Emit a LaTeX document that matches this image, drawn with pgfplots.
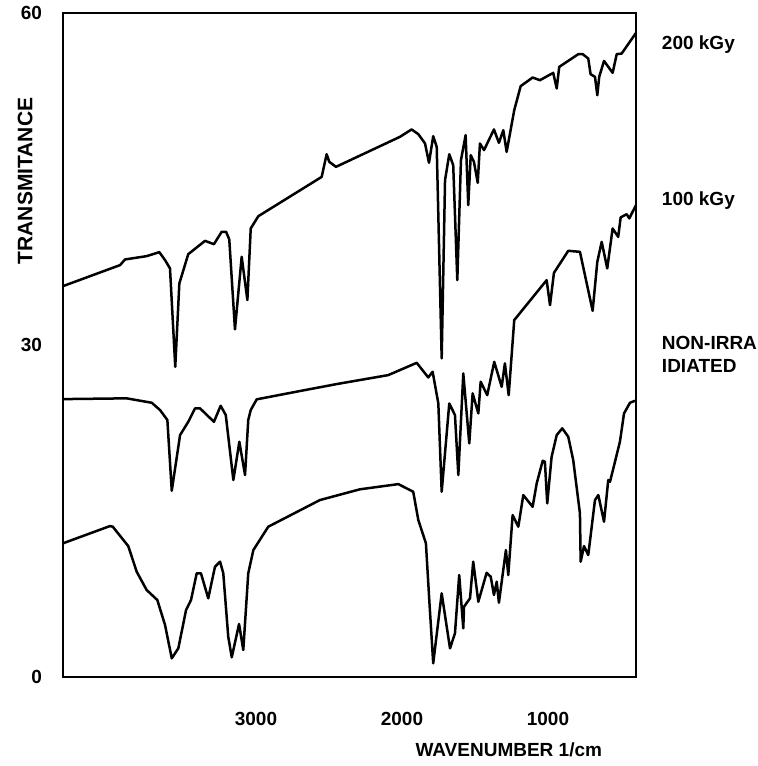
\documentclass[border=0pt]{standalone}
\usepackage{pgfplots}
\pgfplotsset{compat=1.18}
\usepackage{fontspec}
\setmainfont{Liberation Sans}

\begin{document}
\begin{tikzpicture}
\path[use as bounding box] (-31.5pt,-44.5pt) rectangle (347.5pt,338.5pt);
\begin{axis}[
  scale only axis,
  width=286.5pt, height=332pt,
  at={(0,0)}, anchor=south west,
  x dir=reverse,
  xmin=397, xmax=4322,
  ymin=0, ymax=60,
  axis line style={line width=1pt},
  major tick length=0pt,
  xtick={3000,2000,1000},
  xticklabels={3000,2000,1000},
  ytick={0,30,60},
  yticklabels={0,30,60},
  /pgf/number format/assume math mode=true,
  ticklabel style={font=\fontsize{9.5}{11}\selectfont\bfseries},
  xticklabel style={yshift=-14pt},
  yticklabel style={xshift=-7pt},
  xlabel={WAVENUMBER 1/cm},
  xlabel style={at={(axis description cs:0.778,-0.11)}, anchor=center,
    font=\fontsize{9.5}{11}\selectfont\bfseries},
  ylabel={TRANSMITANCE},
  ylabel style={at={(axis description cs:-0.066,0.747)}, anchor=center,
    font=\fontsize{10.5}{12}\selectfont\bfseries},
  clip=false,
]
% 200 kGy
\addplot[black, line width=1.25pt, line join=round, mark=none] coordinates {
(4322,35.32) (3931,37.22) (3897,37.73) (3749,38.03) (3662,38.39) (3623,37.67)
(3589,36.92) (3553,28.03) (3525,35.56) (3464,38.21) (3349,39.41) (3288,39.11)
(3235,40.23) (3205,40.23) (3183,39.54) (3144,31.41) (3098,37.97) (3059,34.06)
(3036,40.53) (2984,41.64) (2550,45.19) (2516,47.24) (2498,46.55) (2452,46.10)
(2014,48.81) (1934,49.48) (1888,49.05) (1842,48.21) (1815,46.46) (1786,48.87)
(1762,47.90) (1728,28.79) (1705,44.90) (1676,47.24) (1649,46.25) (1621,35.86)
(1596,46.70) (1564,48.96) (1546,42.64) (1529,47.15) (1507,46.55) (1481,44.65)
(1466,48.21) (1438,47.61) (1370,49.48) (1336,48.27) (1306,49.41) (1283,47.45)
(1231,51.22) (1187,53.39) (1105,54.17) (1055,53.93) (964,54.59) (940,53.18)
(923,55.13) (792,56.28) (762,56.28) (724,55.89) (708,54.47) (678,54.23)
(662,52.57) (649,54.23) (616,55.67) (557,54.59) (529,56.28) (495,56.34)
(397,58.20)
};
% 100 kGy
\addplot[black, line width=1.25pt, line join=round, mark=none] coordinates {
(4322,25.11) (3886,25.18) (3714,24.78) (3657,24.12) (3607,23.22) (3577,16.83)
(3520,21.86) (3464,23.06) (3418,24.27) (3383,24.27) (3288,23.06) (3242,24.51)
(3207,23.67) (3155,17.80) (3114,21.26) (3075,18.25) (3053,23.22) (3036,24.12)
(2995,25.09) (2699,25.84) (2447,26.47) (2094,27.28) (1899,28.39) (1820,27.07)
(1790,27.58) (1751,24.72) (1728,16.74) (1676,24.72) (1637,23.67) (1614,18.25)
(1580,27.43) (1539,21.11) (1516,25.63) (1477,23.82) (1461,26.68) (1416,25.47)
(1368,28.48) (1317,26.22) (1295,28.34) (1269,25.47) (1231,32.25) (1009,35.86)
(986,33.60) (959,36.52) (861,38.51) (781,38.42) (694,33.09) (662,37.52)
(632,39.32) (594,36.92) (557,40.53) (519,39.77) (502,41.53) (461,41.82)
(443,41.44) (397,42.64)
};
% non-irradiated
\addplot[black, line width=1.25pt, line join=round, mark=none] coordinates {
(4322,12.08) (4000,13.64) (3981,13.58) (3875,11.83) (3817,9.51) (3749,7.86)
(3676,6.96) (3623,4.70) (3577,1.69) (3532,2.59) (3479,6.05) (3445,6.96)
(3406,9.37) (3377,9.37) (3327,7.11) (3281,9.96) (3246,10.42) (3224,9.37)
(3190,3.64) (3166,1.78) (3116,4.79) (3087,2.44) (3053,9.37) (3018,11.47)
(2916,13.58) (2562,15.99) (2288,16.96) (2025,17.43) (1945,16.89) (1923,16.74)
(1888,14.18) (1836,12.08) (1813,6.96) (1786,1.24) (1728,7.56) (1671,2.59)
(1637,3.95) (1608,9.21) (1580,4.40) (1575,6.35) (1534,7.11) (1512,10.42)
(1477,6.80) (1420,9.42) (1392,9.06) (1370,7.41) (1351,8.61) (1336,6.71)
(1288,11.47) (1272,9.21) (1242,14.63) (1203,13.58) (1169,16.44) (1105,15.38)
(1077,17.50) (1036,19.54) (1021,19.45) (1005,15.69) (975,19.90) (940,21.86)
(902,22.47) (861,21.71) (827,19.60) (781,14.79) (776,10.42) (753,11.83)
(724,11.02) (678,15.99) (655,16.44) (616,14.03) (587,17.80) (575,17.64)
(507,21.26) (479,23.82) (438,24.78) (404,24.96)
};
\node[anchor=west, font=\fontsize{9.5}{11}\selectfont\bfseries]
  at (axis description cs:1.033,0.952) {200 kGy};
\node[anchor=west, font=\fontsize{9.5}{11}\selectfont\bfseries]
  at (axis description cs:1.033,0.718) {100 kGy};
\node[anchor=west, align=left, font=\fontsize{9.5}{11.5}\selectfont\bfseries]
  at (axis description cs:1.033,0.486) {NON-IRRA\\IDIATED};
\end{axis}
\end{tikzpicture}
\end{document}
